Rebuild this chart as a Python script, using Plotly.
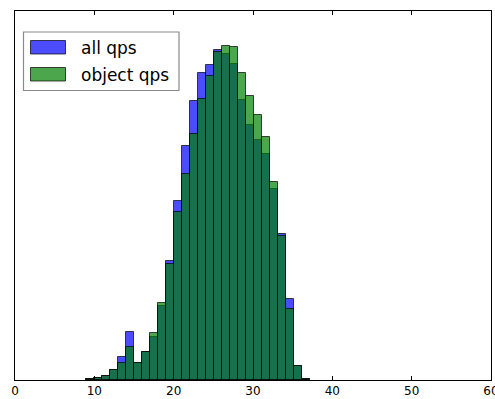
import numpy as np
import plotly.graph_objects as go

# Histogram of qps values: 28 equal-width bins spanning the observed range
bin_lo, bin_hi, n_bins = 8.98, 37.15, 28
bin_edges = np.linspace(bin_lo, bin_hi, n_bins + 1)

# Per-bin counts (arbitrary units)
all_qps_counts = [1, 2, 4, 10, 23, 48, 17, 28, 43, 74, 118.7, 179.7, 234.3, 279,
                  307.3, 315.7, 330, 326.7, 316.7, 280.7, 255, 240, 226, 191,
                  146.7, 80.7, 14, 1]
object_qps_counts = [1, 2, 4, 10, 17, 33, 17, 28, 47, 77, 116, 168.7, 206.7, 246.3,
                     281, 304.3, 328, 334, 333, 307.3, 284.7, 265.7, 243, 198,
                     144.7, 71, 14, 1]

series_names = ["all qps", "object qps"]
x_ticks = [0, 10, 20, 30, 40, 50, 60]

centers = (bin_edges[:-1] + bin_edges[1:]) / 2
widths = np.diff(bin_edges)

BLUE = "rgba(0,0,255,0.7)"
GREEN = "rgba(0,128,0,0.7)"
EDGE = "rgba(0,0,0,0.7)"

fig = go.Figure()
for name, counts, color in [(series_names[0], all_qps_counts, BLUE),
                            (series_names[1], object_qps_counts, GREEN)]:
    fig.add_trace(go.Bar(
        x=centers, y=counts, width=widths, name=name,
        marker=dict(color=color, line=dict(color=EDGE, width=1)),
        showlegend=False,
    ))

W, H = 495, 399
L, R, T, B = 15, 4, 11, 19
pw, ph = W - L - R, H - T - B


def px(xp):
    return (xp - L) / pw


def py(yp):
    return (H - B - yp) / ph


shapes = [
    # legend frame
    dict(type="rect", xref="paper", yref="paper",
         x0=px(23.5), x1=px(179), y0=py(90.5), y1=py(32),
         line=dict(color="#8a8a8a", width=1.2), fillcolor="white", layer="above"),
    # legend patches
    dict(type="rect", xref="paper", yref="paper",
         x0=px(30.5), x1=px(65.5), y0=py(54), y1=py(40.5),
         line=dict(color=EDGE, width=1), fillcolor=BLUE, layer="above"),
    dict(type="rect", xref="paper", yref="paper",
         x0=px(30.5), x1=px(65.5), y0=py(81), y1=py(67.5),
         line=dict(color=EDGE, width=1), fillcolor=GREEN, layer="above"),
]
annotations = [
    dict(text=series_names[0], xref="paper", yref="paper", x=px(79), y=py(47.5),
         xanchor="left", yanchor="middle", showarrow=False,
         font=dict(family="DejaVu Sans", size=17, color="black")),
    dict(text=series_names[1], xref="paper", yref="paper", x=px(79), y=py(74.5),
         xanchor="left", yanchor="middle", showarrow=False,
         font=dict(family="DejaVu Sans", size=17, color="black")),
]

fig.update_layout(
    width=W, height=H,
    margin=dict(l=L, r=R, t=T, b=B, pad=0, autoexpand=False),
    paper_bgcolor="white", plot_bgcolor="white",
    barmode="overlay", bargap=0,
    shapes=shapes, annotations=annotations,
    font=dict(family="DejaVu Sans", size=12, color="black"),
    xaxis=dict(range=[0, 60], tickvals=x_ticks, ticktext=[str(v) for v in x_ticks],
               ticks="inside", ticklen=4, tickcolor="black", tickwidth=1,
               showline=True, linecolor="black", linewidth=1, mirror="ticks",
               showgrid=False, zeroline=False, tickfont=dict(size=12),
               ticklabeloverflow="allow", automargin=False),
    yaxis=dict(range=[0, 369.5], showticklabels=False, ticks="",
               showline=True, linecolor="black", linewidth=1, mirror=True,
               showgrid=False, zeroline=False, automargin=False),
)

fig.write_html("out.html")
